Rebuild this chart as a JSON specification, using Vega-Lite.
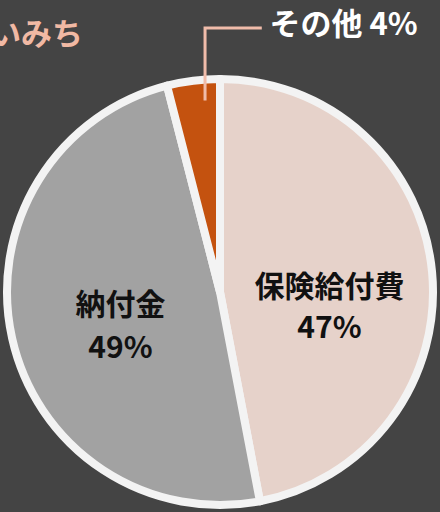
{
  "$schema": "https://vega.github.io/schema/vega-lite/v6.json",
  "width": 440,
  "height": 440,
  "autosize": {"type": "none"},
  "padding": {"left": 0, "top": 72, "right": 0, "bottom": 0},
  "background": "#444444",
  "config": {"view": {"stroke": null}, "font": "Noto Sans CJK JP"},
  "title": {
    "text": "お金の使いみち",
    "anchor": "start",
    "frame": "group",
    "offset": 14,
    "dx": -134,
    "dy": 56,
    "fontSize": 31,
    "fontWeight": "bold",
    "color": "#f1b9a4",
    "font": "Noto Sans CJK JP"
  },
  "datasets": {
    "slices": [
      {"category": "保険給付費", "value": 47, "order": 1},
      {"category": "納付金", "value": 49, "order": 2},
      {"category": "その他", "value": 4, "order": 3}
    ],
    "callout": [
      {"px": -0.068, "py": 0.87, "seg": 1},
      {"px": -0.068, "py": 1.2, "seg": 2},
      {"px": 0.19, "py": 1.2, "seg": 3}
    ]
  },
  "layer": [
    {
      "data": {"name": "slices"},
      "transform": [
        {"stack": "value", "groupby": [], "sort": [{"field": "order"}], "as": ["v0", "v1"]}
      ],
      "mark": {"type": "arc", "outerRadius": 213, "stroke": "#f3f3f3", "strokeWidth": 8, "strokeJoin": "round"},
      "encoding": {
        "theta": {"field": "v0", "type": "quantitative", "scale": {"domain": [0, 100]}},
        "theta2": {"field": "v1"},
        "color": {
          "field": "category",
          "type": "nominal",
          "scale": {"domain": ["保険給付費", "納付金", "その他"], "range": ["#e6d2ca", "#a2a2a2", "#c4520f"]},
          "legend": null
        }
      }
    },
    {
      "data": {"name": "slices"},
      "transform": [
        {"stack": "value", "groupby": [], "sort": [{"field": "order"}], "as": ["v0", "v1"]},
        {"filter": "datum.category === '保険給付費'"},
        {"fold": ["v0", "v1"], "as": ["edge", "angle"]},
        {"aggregate": [{"op": "mean", "field": "angle", "as": "mid"}], "groupby": ["category"]}
      ],
      "mark": {"type": "text", "radius": 110, "dy": 6, "fontSize": 30, "fontWeight": "bold", "color": "#111111", "lineHeight": 41, "baseline": "middle"},
      "encoding": {
        "theta": {"field": "mid", "type": "quantitative", "scale": {"domain": [0, 100]}},
        "text": {"value": ["保険給付費", "47%"]}
      }
    },
    {
      "data": {"name": "slices"},
      "transform": [
        {"stack": "value", "groupby": [], "sort": [{"field": "order"}], "as": ["v0", "v1"]},
        {"filter": "datum.category === '納付金'"},
        {"fold": ["v0", "v1"], "as": ["edge", "angle"]},
        {"aggregate": [{"op": "mean", "field": "angle", "as": "mid"}], "groupby": ["category"]}
      ],
      "mark": {"type": "text", "radius": 102, "dy": -8, "fontSize": 30, "fontWeight": "bold", "color": "#111111", "lineHeight": 43, "baseline": "middle"},
      "encoding": {
        "theta": {"field": "mid", "type": "quantitative", "scale": {"domain": [0, 100]}},
        "text": {"value": ["納付金", "49%"]}
      }
    },
    {
      "data": {"name": "callout"},
      "mark": {"type": "line", "color": "#f0bcaa", "strokeWidth": 3, "clip": false},
      "encoding": {
        "x": {"field": "px", "type": "quantitative", "scale": {"domain": [-1, 1]}, "axis": null},
        "y": {"field": "py", "type": "quantitative", "scale": {"domain": [-1, 1]}, "axis": null},
        "order": {"field": "seg"}
      }
    },
    {
      "data": {"values": [{"px": 0.225, "py": 1.21, "label": "その他 4%"}]},
      "mark": {"type": "text", "align": "left", "baseline": "middle", "fontSize": 31, "fontWeight": "bold", "color": "#ffffff"},
      "encoding": {
        "x": {"field": "px", "type": "quantitative", "scale": {"domain": [-1, 1]}, "axis": null},
        "y": {"field": "py", "type": "quantitative", "scale": {"domain": [-1, 1]}, "axis": null},
        "text": {"field": "label"}
      }
    }
  ]
}
